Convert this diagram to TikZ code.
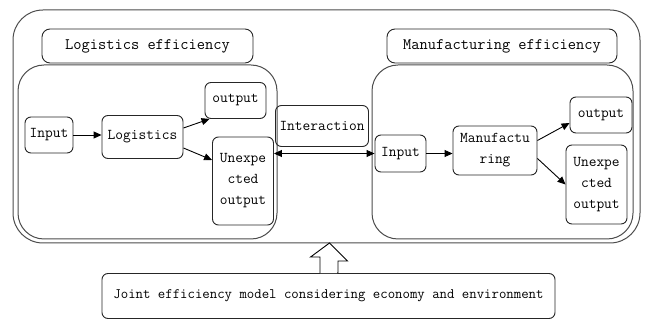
\documentclass[tikz,border=0pt]{standalone}
\usepackage{tikz}
\usetikzlibrary{arrows.meta, positioning}

\begin{document}
\begin{tikzpicture}[
  x=1pt, y=-1pt,
  box/.style={rectangle, draw=black!85, line width=0.9pt, rounded corners=6pt, align=center, inner sep=0pt, font=\ttfamily\fontsize{15}{21}\selectfont},
  ttl/.style={box, rounded corners=8pt, font=\ttfamily\fontsize{16}{18}\selectfont},
  frame/.style={draw=black!70, line width=1pt, rounded corners=26pt},
  arrow/.style={-{Triangle[length=8pt, width=7pt]}, line width=0.9pt}
]
  \useasboundingbox (0,0) rectangle (648,320);

  % containers
  \draw[frame, rounded corners=30pt] (13,10) rectangle (640,243);
  \draw[frame] (18,65) rectangle (277,239);
  \draw[frame] (372,65) rectangle (633,239);
  \coordinate (outerS) at (329.5,243);

  \node[ttl, minimum width=211, minimum height=34] (titleL) at (147.5,46) {Logistics efficiency};
  \node[ttl, minimum width=230, minimum height=34] (titleR) at (502,46) {Manufacturing efficiency};

  % logistics side
  \node[box, minimum width=48, minimum height=36] (inL) at (49,135) {Input};
  \node[box, minimum width=81, minimum height=43] (logi) at (142.5,137) {Logistics};
  \node[box, minimum width=61, minimum height=36] (outL) at (235.5,100.5) {output};
  \node[box, minimum width=61, minimum height=88] (unexL) at (243,181) {Unexpe\\cted\\output};

  \node[box, minimum width=93, minimum height=41] (inter) at (322,126) {Interaction};

  % manufacturing side
  \node[box, minimum width=51, minimum height=37] (inR) at (400.5,153.5) {Input};
  \node[box, minimum width=84, minimum height=49] (manu) at (495,150.5) {Manufactu\\ring};
  \node[box, minimum width=62, minimum height=36] (outR) at (601,115) {output};
  \node[box, minimum width=61, minimum height=79] (unexR) at (596.5,184.5) {Unexpe\\cted\\output};

  \node[box, minimum width=453, minimum height=45, font=\ttfamily\fontsize{14.4}{16}\selectfont] (joint) at (328.5,296) {Joint efficiency model considering economy and environment};

  \draw[arrow] (inL.east) -- (inL.east -| logi.west);
  \draw[arrow] ([yshift=9pt]logi.east) -- ([xshift=5pt]outL.south west);
  \draw[arrow] ([yshift=-11pt]logi.east) -- ([yshift=21pt]unexL.west);
  \draw[{Triangle[length=8pt, width=7pt]}-{Triangle[length=8pt, width=7pt]}, line width=0.9pt] (inR.west -| unexL.east) -- (inR.west);
  \draw[arrow] (inR.east) -- (inR.east -| manu.west);
  \draw[arrow] ([yshift=10pt]manu.east) -- ([yshift=-8pt]outR.west);
  \draw[arrow] ([yshift=-8pt]manu.east) -- (unexR.west);

  % hollow arrow up to the model
  \draw[line width=0.9pt, fill=white] ([xshift=-8.5pt]joint.north) -- ++(0,-16) -- ++(-9.5,0) -- (outerS) -- ([xshift=18pt,yshift=-18pt]outerS) -- ++(-9.5,0) |- ([xshift=8.5pt]joint.north);
\end{tikzpicture}
\end{document}
